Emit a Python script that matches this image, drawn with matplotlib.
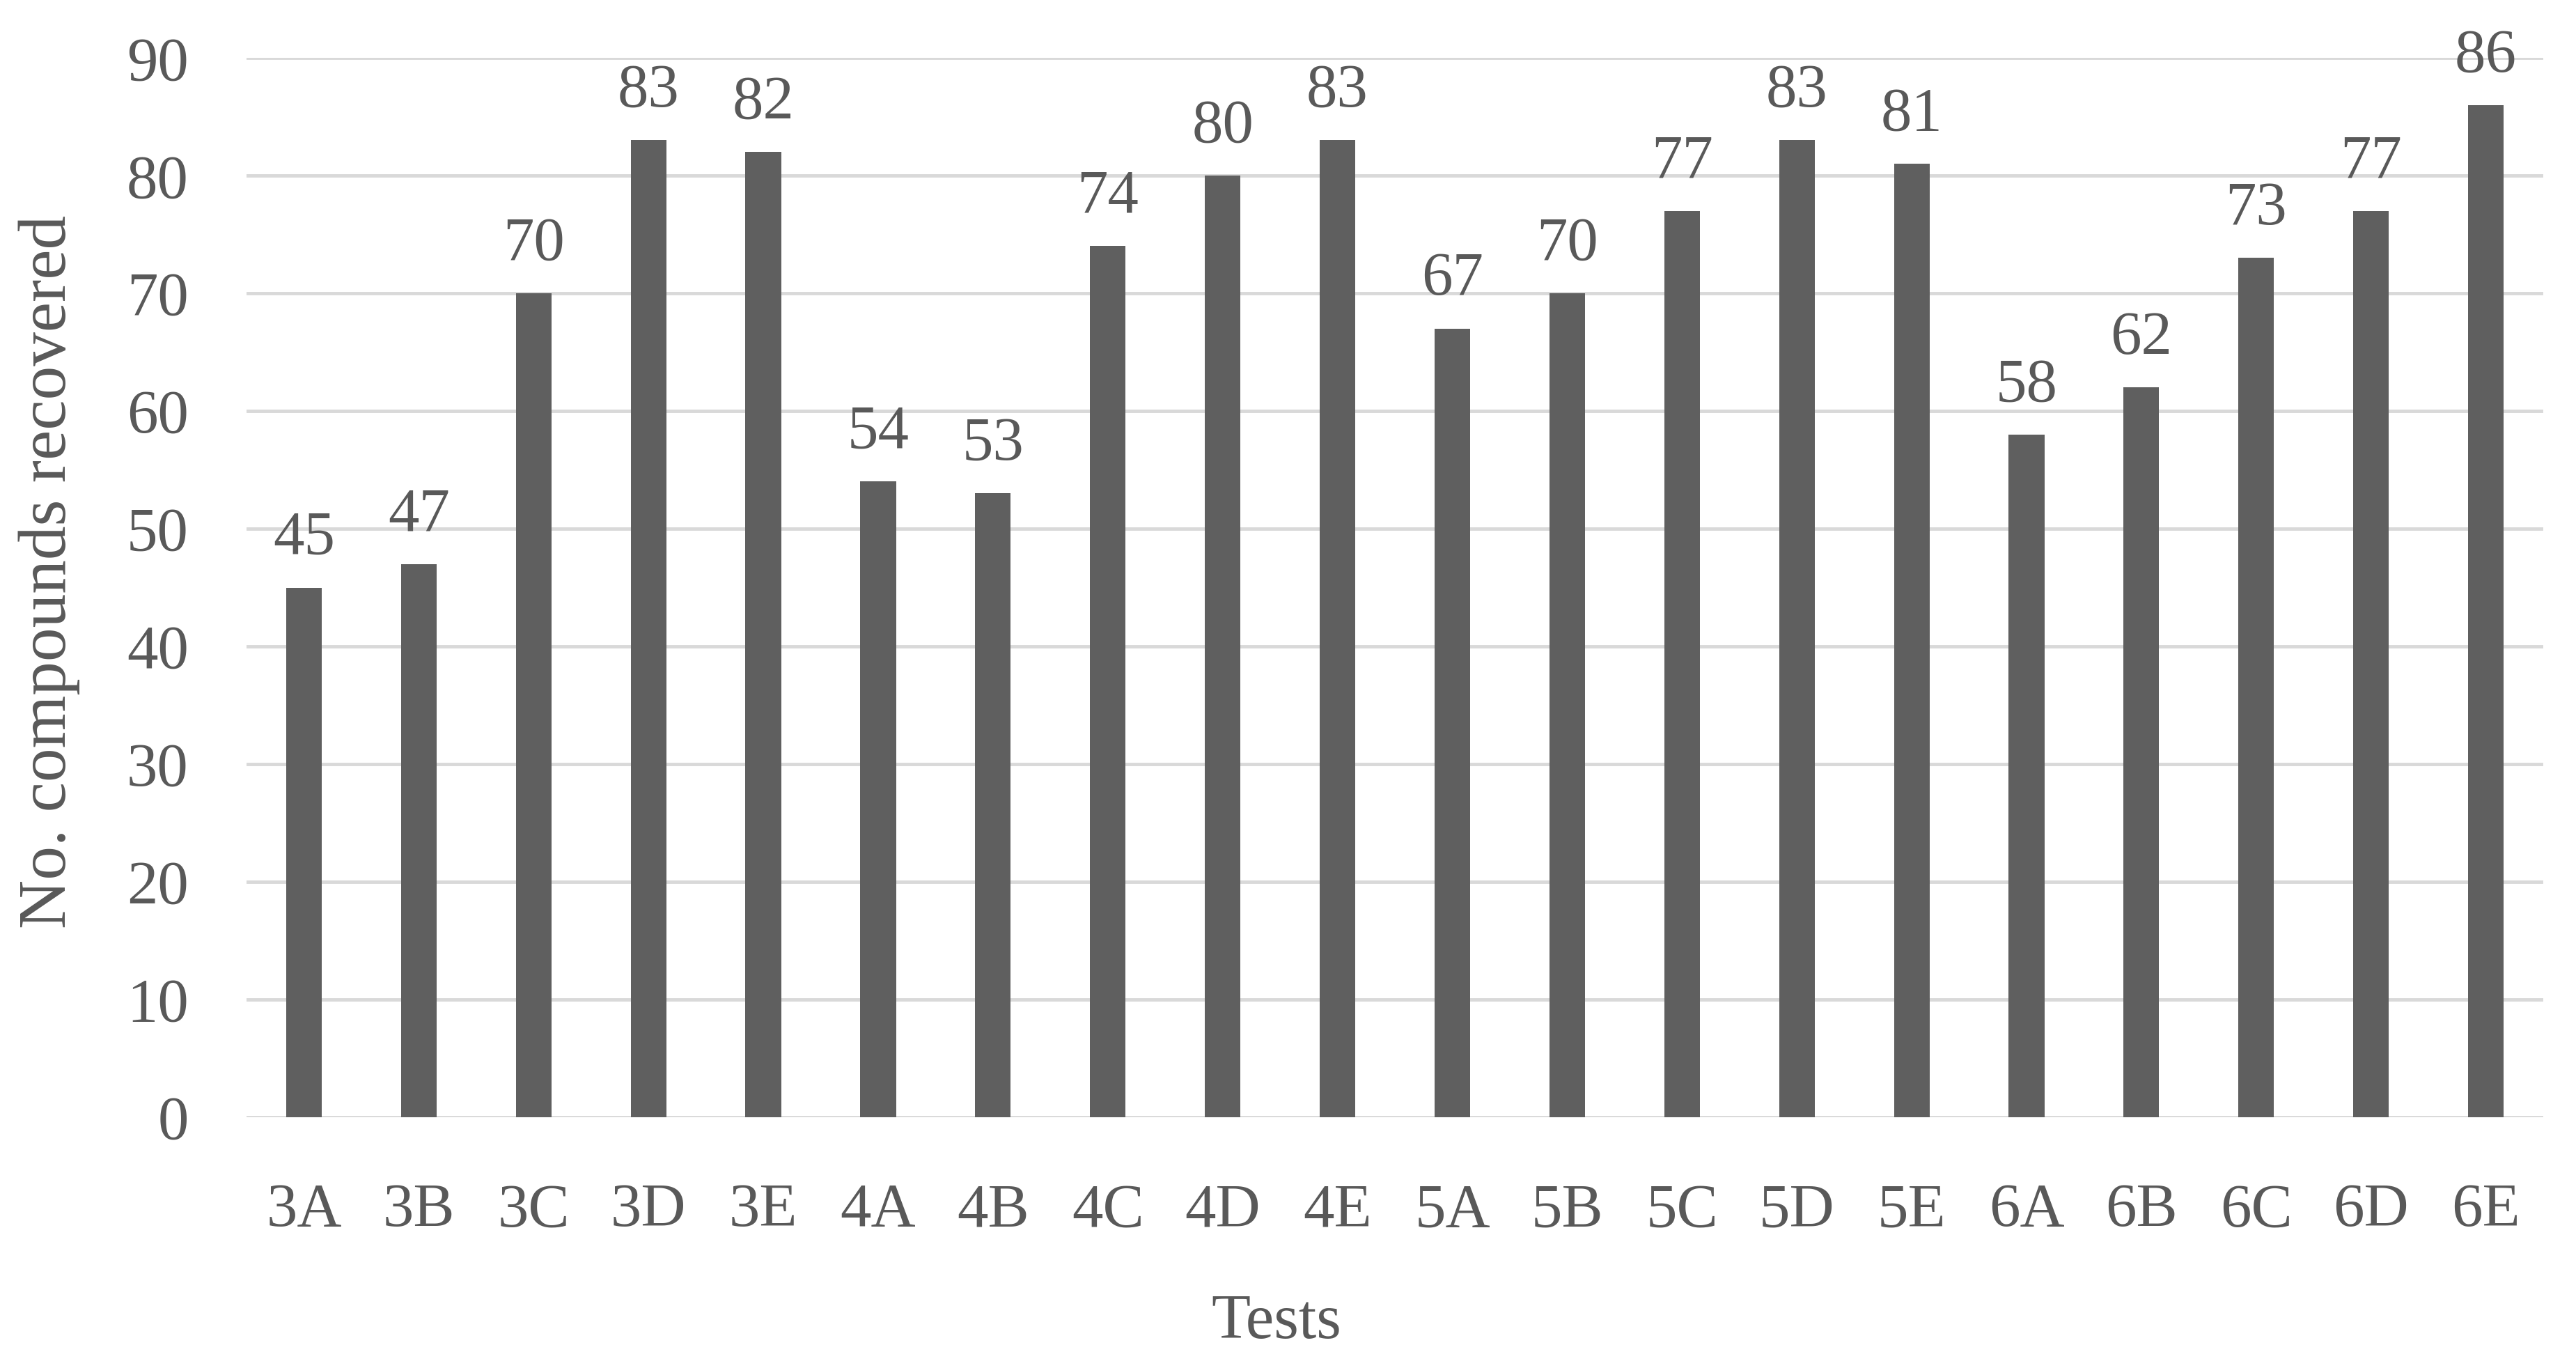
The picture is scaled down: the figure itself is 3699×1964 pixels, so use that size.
import matplotlib
matplotlib.use('Agg')
import matplotlib.pyplot as plt
import numpy as np

# test groups and counts
tests = ['3A', '3B', '3C', '3D', '3E',
         '4A', '4B', '4C', '4D', '4E',
         '5A', '5B', '5C', '5D', '5E',
         '6A', '6B', '6C', '6D', '6E']
recovered = [45, 47, 70, 83, 82,
             54, 53, 74, 80, 83,
             67, 70, 77, 83, 81,
             58, 62, 73, 77, 86]
y_ticks = list(range(0, 100, 10))

bar_color = '#5f5f5f'
text_color = '#595959'
grid_color = '#d9d9d9'
font_size = 64

plt.rcParams['font.family'] = ['Liberation Serif', 'DejaVu Serif']

fig = plt.figure(figsize=(36.99, 19.64), dpi=100)
ax = fig.add_axes([0.0957, 0.1833, 0.8916, 0.7744])

x = np.arange(len(tests))
ax.bar(x, recovered, width=0.31, color=bar_color, zorder=3)

for xi, val in zip(x, recovered):
    ax.annotate(str(val), (xi, val), xytext=(0, 35), textcoords='offset points',
                ha='center', va='baseline', fontsize=font_size, color=text_color)

ax.set_xlim(-0.5, len(tests) - 0.5)
ax.set_ylim(0, 90)
ax.set_yticks(y_ticks)
ax.set_xticks(x)
ax.set_xticklabels(tests)
ax.yaxis.grid(True, color=grid_color, linewidth=3.5, zorder=0)
ax.tick_params(axis='both', length=0, labelsize=font_size, labelcolor=text_color)
ax.tick_params(axis='y', pad=60)
ax.tick_params(axis='x', pad=68)
for s in ax.spines.values():
    s.set_visible(False)

ax.set_xlabel('Tests', fontsize=font_size + 2, color=text_color, labelpad=56)
ax.xaxis.label.set_x(0.4485)
ax.set_ylabel('No. compounds recovered', fontsize=font_size + 6, color=text_color, labelpad=48)
ax.yaxis.label.set_y(0.515)

fig.savefig('out.png', dpi=100, facecolor='white')
